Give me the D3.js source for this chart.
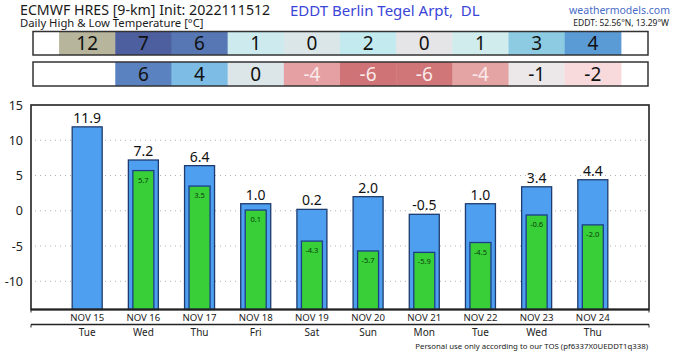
<!DOCTYPE html>
<html lang="en">
<head>
<meta charset="UTF-8">
<title>ECMWF HRES Daily High & Low Temperature</title>
<style>
  body { margin: 0; padding: 0; background: #fff; overflow: hidden; }
  svg { display: block; }
  text { font-family: "Noto Sans", "DejaVu Sans", sans-serif; }
</style>
</head>
<body>
<div id="chart"></div>
<script src="https://cdnjs.cloudflare.com/ajax/libs/d3/7.8.5/d3.min.js"></script>
<script>
// data
const dates = ["NOV 15", "NOV 16", "NOV 17", "NOV 18", "NOV 19", "NOV 20", "NOV 21", "NOV 22", "NOV 23", "NOV 24"];
const weekdays = ["Tue", "Wed", "Thu", "Fri", "Sat", "Sun", "Mon", "Tue", "Wed", "Thu"];
const highs = [11.9, 7.2, 6.4, 1.0, 0.2, 2.0, -0.5, 1.0, 3.4, 4.4];
const lows = [null, 5.7, 3.5, 0.1, -4.3, -5.7, -5.9, -4.5, -0.6, -2.0];
const highRow = [12, 7, 6, 1, 0, 2, 0, 1, 3, 4];
const lowRow = [null, 6, 4, 0, -4, -6, -6, -4, -1, -2];
const highRowColors = ["#b7b59b", "#4e5f9f", "#5677b4", "#cdebee", "#dbe6e8", "#c3eaef", "#e5e5e7", "#d1ecec", "#8dcbe3", "#5b9bd5"];
const lowRowColors = [null, "#5a82c0", "#7dbde5", "#dce6e8", "#e4a0a2", "#cf7376", "#d07678", "#e4a4a4", "#ece8e9", "#f8dadd"];
const yTicks = [15, 10, 5, 0, -5, -10];

const W = 680, H = 353;
const svg = d3.select("#chart").append("svg").attr("width", W).attr("height", H);

const x = d3.scaleLinear().domain([-1, dates.length]).range([31, 649]);
const y = d3.scaleLinear().domain([-14, 15]).range([309.5, 105]);
const step = x(1) - x(0);

// header
svg.append("text").attr("x", 20).attr("y", 15).attr("font-size", 14.2).attr("fill", "#1a1a1a")
  .text("ECMWF HRES [9-km] Init: 2022111512");
svg.append("text").attr("x", 20).attr("y", 26.5).attr("font-size", 11.3).attr("fill", "#1a1a1a")
  .text("Daily High & Low Temperature [°C]");
svg.append("text").attr("x", 290).attr("y", 15.5).attr("font-size", 15).attr("fill", "#3a46d8")
  .attr("xml:space", "preserve").text("EDDT Berlin Tegel Arpt,  DL");
svg.append("text").attr("x", 670).attr("y", 14).attr("font-size", 10.5).attr("fill", "#4a6cc8")
  .attr("text-anchor", "end").text("weathermodels.com");
svg.append("text").attr("x", 669).attr("y", 26).attr("font-size", 8.5).attr("fill", "#222")
  .attr("text-anchor", "end").text("EDDT: 52.56°N, 13.29°W");

// the two number rows
function drawRow(values, colors, top, h) {
  const cells = values.map((v, i) => ({ v, i }));
  const row = svg.append("g");
  row.selectAll("rect.cell")
    .data(cells)
    .enter().append("rect")
    .attr("class", "cell")
    .attr("x", d => x(d.i - 0.5))
    .attr("y", top)
    .attr("width", step + 0.5)
    .attr("height", h)
    .attr("fill", d => d.v === null ? "#fff" : colors[d.i]);
  row.selectAll("text")
    .data(cells.filter(d => d.v !== null))
    .enter().append("text")
    .attr("x", d => x(d.i))
    .attr("y", top + h - 5)
    .attr("text-anchor", "middle")
    .attr("font-family", "DejaVu Sans, sans-serif")
    .attr("font-size", 19)
    .attr("fill", d => d.v <= -4 ? "#fbeaea" : "#111")
    .text(d => d.v);
  row.append("rect")
    .attr("x", 33).attr("y", top)
    .attr("width", 615).attr("height", h)
    .attr("fill", "none").attr("stroke", "#333").attr("stroke-width", 1.5);
}
drawRow(highRow, highRowColors, 31.5, 23.5);
drawRow(lowRow, lowRowColors, 62, 24);

// grid
svg.append("g").selectAll("line")
  .data(yTicks.filter(t => t < 15))
  .enter().append("line")
  .attr("x1", 35).attr("x2", 646)
  .attr("y1", d => y(d)).attr("y2", d => y(d))
  .attr("stroke", "#b0b0b0").attr("stroke-width", 1)
  .attr("stroke-dasharray", "1,4");

// y tick labels
svg.append("g").selectAll("text")
  .data(yTicks)
  .enter().append("text")
  .attr("x", 23).attr("y", d => y(d) + 4.5)
  .attr("text-anchor", "end").attr("font-size", 12.5).attr("fill", "#222")
  .text(d => d);

// high bars
const barW = 30, lowW = 21;
svg.append("g").selectAll("rect")
  .data(highs)
  .enter().append("rect")
  .attr("x", (d, i) => x(i) - barW / 2)
  .attr("y", d => y(d))
  .attr("width", barW)
  .attr("height", d => y(-14) - y(d))
  .attr("fill", "#4f9ff0")
  .attr("stroke", "#1d3b6e").attr("stroke-width", 1.3);

// low bars
const lowData = lows.map((v, i) => ({ v, i })).filter(d => d.v !== null);
svg.append("g").selectAll("rect")
  .data(lowData)
  .enter().append("rect")
  .attr("x", d => x(d.i) - lowW / 2)
  .attr("y", d => y(d.v))
  .attr("width", lowW)
  .attr("height", d => y(-14) - y(d.v))
  .attr("fill", "#38cf38")
  .attr("stroke", "#1c3d8a").attr("stroke-width", 1.3);

// value labels
svg.append("g").selectAll("text")
  .data(highs)
  .enter().append("text")
  .attr("x", (d, i) => x(i)).attr("y", d => y(d) - 4)
  .attr("text-anchor", "middle").attr("font-size", 14).attr("fill", "#111")
  .text(d => d.toFixed(1));
svg.append("g").selectAll("text")
  .data(lowData)
  .enter().append("text")
  .attr("x", d => x(d.i)).attr("y", d => y(d.v) + 12)
  .attr("text-anchor", "middle").attr("font-size", 7.5).attr("fill", "#0c3d0c")
  .text(d => d.v.toFixed(1));

// plot frame
svg.append("rect")
  .attr("x", 31).attr("y", 105)
  .attr("width", 618).attr("height", 204.5)
  .attr("fill", "none").attr("stroke", "#222").attr("stroke-width", 1.6);

// x axis: dates and weekdays
const xAxis = svg.append("g");
xAxis.append("line").attr("x1", 31).attr("x2", 649).attr("y1", 309.5).attr("y2", 309.5)
  .attr("stroke", "#222").attr("stroke-width", 2);
xAxis.append("line").attr("x1", 31).attr("x2", 649).attr("y1", 324.5).attr("y2", 324.5)
  .attr("stroke", "#222").attr("stroke-width", 1.5);
[309.5, 324.5].forEach(yy => {
  xAxis.append("line").attr("x1", 31).attr("x2", 31).attr("y1", yy).attr("y2", yy + 3).attr("stroke", "#222");
  xAxis.append("line").attr("x1", 649).attr("x2", 649).attr("y1", yy).attr("y2", yy + 3).attr("stroke", "#222");
});
xAxis.selectAll("text.date")
  .data(dates)
  .enter().append("text")
  .attr("class", "date")
  .attr("x", (d, i) => x(i)).attr("y", 321)
  .attr("text-anchor", "middle").attr("font-size", 9.6).attr("fill", "#222")
  .attr("font-family", "Roboto, sans-serif")
  .text(d => d);
xAxis.selectAll("text.day")
  .data(weekdays)
  .enter().append("text")
  .attr("class", "day")
  .attr("x", (d, i) => x(i)).attr("y", 336)
  .attr("text-anchor", "middle").attr("font-size", 10).attr("fill", "#222")
  .attr("font-family", "Roboto, sans-serif")
  .text(d => d);

// footer
svg.append("text").attr("x", 648).attr("y", 349)
  .attr("text-anchor", "end").attr("font-size", 7.8).attr("fill", "#222")
  .attr("font-family", "Liberation Sans, Arial, sans-serif")
  .text("Personal use only according to our TOS (pf6337X0UEDDT1q338)");
</script>
</body>
</html>
